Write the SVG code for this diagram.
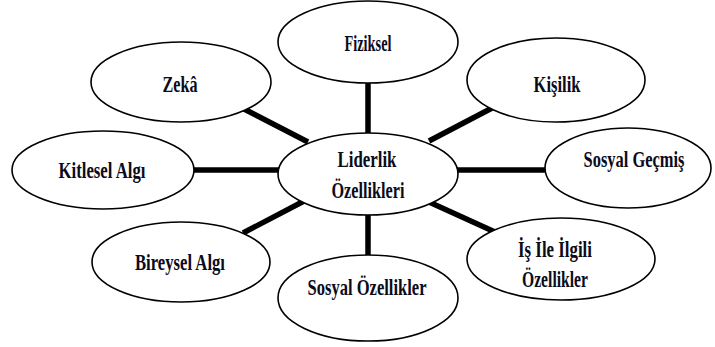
<svg xmlns="http://www.w3.org/2000/svg" width="715" height="347" viewBox="0 0 715 347">
  <style>
    .node ellipse { fill: #ffffff; stroke: #000000; stroke-width: 1.6; }
    .node text { font-family: "Liberation Serif", "Times New Roman", serif; font-weight: bold; font-size: 22.5px; fill: #0b0b1a; text-anchor: middle; }
    .node text.tall { font-size: 16px; }
    .links line { stroke: #000000; stroke-width: 5.5; stroke-linecap: butt; }
  </style>
  <rect width="715" height="347" fill="#ffffff"/>

  <!-- spokes from the hub to each trait -->
  <g id="connectors" class="links">
    <line x1="368" y1="82" x2="368" y2="134"/>
    <line x1="368" y1="214" x2="368" y2="256"/>
    <line x1="193" y1="170" x2="279" y2="170"/>
    <line x1="456" y1="170" x2="546" y2="170"/>
    <line x1="244" y1="109" x2="308" y2="142"/>
    <line x1="429" y1="141" x2="494" y2="107"/>
    <line x1="243" y1="233" x2="306" y2="200"/>
    <line x1="429" y1="202" x2="495" y2="232"/>
  </g>

  <g id="node-fiziksel" class="node">
    <ellipse cx="368" cy="42" rx="90" ry="41"/>
    <text x="368" y="51" textLength="47" lengthAdjust="spacingAndGlyphs">Fiziksel</text>
  </g>

  <g id="node-zeka" class="node">
    <ellipse cx="181" cy="82" rx="90" ry="40"/>
    <text x="180" y="92" textLength="35" lengthAdjust="spacingAndGlyphs">Zekâ</text>
  </g>

  <g id="node-kisilik" class="node">
    <ellipse cx="556" cy="80" rx="89" ry="42"/>
    <text x="557" y="92" textLength="47" lengthAdjust="spacingAndGlyphs">Kişilik</text>
  </g>

  <g id="node-kitlesel-algi" class="node">
    <ellipse cx="103" cy="170" rx="91" ry="39"/>
    <text x="102" y="178" textLength="87" lengthAdjust="spacingAndGlyphs">Kitlesel Algı</text>
  </g>

  <g id="node-liderlik" class="node">
    <ellipse cx="368" cy="174" rx="90" ry="41"/>
    <text x="367" y="167" textLength="59" lengthAdjust="spacingAndGlyphs">Liderlik</text>
    <text x="368" y="198" textLength="73" lengthAdjust="spacingAndGlyphs">Özellikleri</text>
  </g>

  <g id="node-sosyal-gecmis" class="node">
    <ellipse cx="628" cy="168" rx="83" ry="40"/>
    <!-- smaller face stretched vertically to the same letter height as the other labels -->
    <text class="tall" transform="translate(634 167) scale(1 1.406)" x="0" y="0" textLength="101" lengthAdjust="spacingAndGlyphs">Sosyal Geçmiş</text>
  </g>

  <g id="node-bireysel-algi" class="node">
    <ellipse cx="181" cy="262" rx="89" ry="40"/>
    <text x="180" y="270" textLength="90" lengthAdjust="spacingAndGlyphs">Bireysel Algı</text>
  </g>

  <g id="node-sosyal-ozellikler" class="node">
    <ellipse cx="368" cy="298" rx="90" ry="43"/>
    <text x="367" y="295" textLength="119" lengthAdjust="spacingAndGlyphs">Sosyal Özellikler</text>
  </g>

  <g id="node-is-ile-ilgili" class="node">
    <ellipse cx="561" cy="259" rx="94" ry="41"/>
    <text x="555" y="257" textLength="74" lengthAdjust="spacingAndGlyphs">İş İle İlgili</text>
    <text x="555" y="287" textLength="66" lengthAdjust="spacingAndGlyphs">Özellikler</text>
  </g>
</svg>
